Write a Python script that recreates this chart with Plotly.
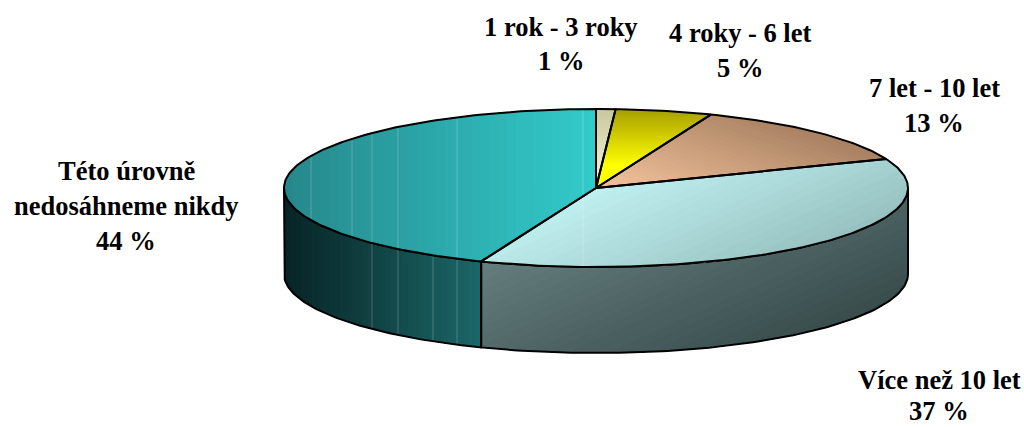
import math
import plotly.graph_objects as go

# ---- data ----
categories = ["1 rok - 3 roky", "4 roky - 6 let", "7 let - 10 let", "Více než 10 let",
              "Této úrovně<br>nedosáhneme nikdy"]
values = [1, 5, 13, 37, 44]
value_labels = ["1 %", "5 %", "13 %", "37 %", "44 %"]

# ---- geometry and style of the tilted pie ----
CX, CY, RX, RY, DEPTH = 596, 188, 312, 79, 86
LABEL_POS = [(561, 27), (740, 33), (934, 88), (939, 380), (126, 171)]
LINE_GAP = [34, 35, 35, 31, 35]
FONT = dict(family="Liberation Serif", size=26.5, color="black")

# gradient: direction, start and stop projection, start colour, stop colour
TOP_STYLE = [
    ((0, 1), 109, 188, (200, 200, 160), (250, 250, 220)),
    ((0, 1), 109, 165, (168, 160, 0), (255, 255, 0)),
    ((-0.35, 1), -170, -15, (160, 122, 92), (250, 200, 160)),
    ((0.45, 1), 430, 730, (198, 246, 246), (122, 160, 160)),
    ((1, 0), 284, 596, (38, 136, 140), (51, 204, 204)),
]
SIDE_STYLE = {
    3: ((0.45, 1), 480, 800, (100, 124, 124), (36, 54, 54)),
    4: ((1, 0), 284, 480, (8, 36, 38), (28, 104, 104)),
}
TOP_SEAMS = [311, 352, 372, 398, 457, 583]
SIDE_SEAMS = [372, 398, 433, 457]
N_STEPS = 36


def arc(p0, p1, dy=0):
    """Points of the ellipse for percent position p0..p1, clockwise from the top."""
    a0, a1 = p0 * 3.6, p1 * 3.6
    n = max(2, int(abs(a1 - a0)) + 1)
    pts = []
    for i in range(n + 1):
        a = math.radians(a0 + (a1 - a0) * i / n)
        pts.append((CX + RX * math.sin(a), CY - RY * math.cos(a) + dy))
    return pts


def clip(poly, d, t):
    out = []
    for i, p in enumerate(poly):
        q = poly[(i + 1) % len(poly)]
        sp = p[0] * d[0] + p[1] * d[1] - t
        sq = q[0] * d[0] + q[1] * d[1] - t
        if sp >= 0:
            out.append(p)
        if (sp >= 0) != (sq >= 0):
            u = sp / (sp - sq)
            out.append((p[0] + (q[0] - p[0]) * u, p[1] + (q[1] - p[1]) * u))
    return out


def poly_trace(poly, color):
    xs = [p[0] for p in poly] + [poly[0][0]]
    ys = [p[1] for p in poly] + [poly[0][1]]
    return go.Scatter(x=xs, y=ys, mode="none", fill="toself", fillcolor=color,
                      hoverinfo="skip", showlegend=False)


def gradient(fig, poly, style):
    d, t0, t1, c0, c1 = style
    for i in range(N_STEPS):
        u = i / (N_STEPS - 1)
        col = "rgb(%d,%d,%d)" % tuple(round(a + (b - a) * u) for a, b in zip(c0, c1))
        part = poly if i == 0 else clip(poly, d, t0 + (t1 - t0) * u)
        if len(part) >= 3:
            fig.add_trace(poly_trace(part, col))


def outline(fig, poly, width=2):
    xs = [p[0] for p in poly] + [poly[0][0]]
    ys = [p[1] for p in poly] + [poly[0][1]]
    fig.add_trace(go.Scatter(x=xs, y=ys, mode="lines",
                             line=dict(color="black", width=width),
                             hoverinfo="skip", showlegend=False))


def seam(fig, x, lower_only):
    h = RY * math.sqrt(max(0, 1 - ((x - CX) / RX) ** 2))
    if lower_only:
        y = [CY + h, CY + h + DEPTH]
    else:
        y = [CY - h, CY + h]
    fig.add_trace(go.Scatter(x=[x, x], y=y, mode="lines",
                             line=dict(color="rgba(255,255,255,0.22)", width=1),
                             hoverinfo="skip", showlegend=False))


fig = go.Figure()

edges = [0]
for v in values:
    edges.append(edges[-1] + v)

# side walls first (only the part of the rim facing the viewer: 25 % .. 75 %)
for i, style in SIDE_STYLE.items():
    p0, p1 = max(edges[i], 25), min(edges[i + 1], 75)
    wall = arc(p0, p1) + arc(p0, p1, DEPTH)[::-1]
    gradient(fig, wall, style)
for x in SIDE_SEAMS:
    seam(fig, x, True)
for i in SIDE_STYLE:
    p0, p1 = max(edges[i], 25), min(edges[i + 1], 75)
    outline(fig, arc(p0, p1) + arc(p0, p1, DEPTH)[::-1])

# top faces
for i, style in enumerate(TOP_STYLE):
    gradient(fig, [(CX, CY)] + arc(edges[i], edges[i + 1]), style)
    if i == 4:
        for x in TOP_SEAMS:
            seam(fig, x, False)
for i in range(len(values)):
    outline(fig, [(CX, CY)] + arc(edges[i], edges[i + 1]))

# labels
for cat, val, pos, gap in zip(categories, value_labels, LABEL_POS, LINE_GAP):
    for k, line in enumerate(cat.split("<br>") + [val]):
        fig.add_annotation(x=pos[0], y=pos[1] + gap * k, text="<b>%s</b>" % line,
                           showarrow=False, font=FONT, xanchor="center", yanchor="middle")

fig.update_layout(
    width=1024, height=427, margin=dict(l=0, r=0, t=0, b=0),
    paper_bgcolor="white", plot_bgcolor="white", showlegend=False,
    xaxis=dict(range=[0, 1024], visible=False, fixedrange=True),
    yaxis=dict(range=[427, 0], visible=False, fixedrange=True),
)
fig.write_html("out.html", config={"displayModeBar": False},
               post_script="document.body.style.margin='0';document.body.style.overflow='hidden';")
